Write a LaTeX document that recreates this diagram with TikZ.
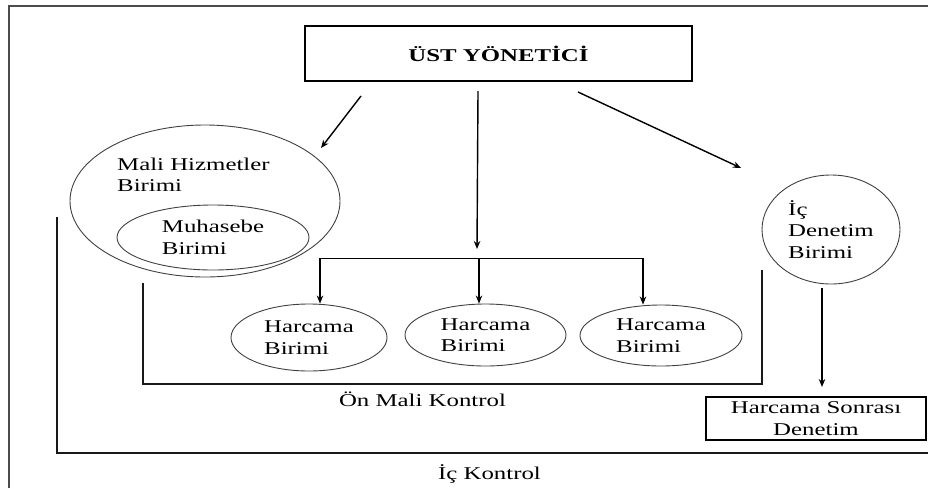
\documentclass[tikz,border=0pt]{standalone}
\usepackage{fontspec}
\setmainfont{Liberation Serif}[FakeStretch=1.38]
\usetikzlibrary{shapes.geometric,arrows.meta}
\begin{document}
\begin{tikzpicture}[x=1pt,y=-1pt,
  every node/.style={font=\fontsize{18}{21.5}\selectfont, inner sep=0pt},
  ell/.style={ellipse, draw=black!75, line width=0.9pt, align=left},
  boxx/.style={rectangle, draw=black, line width=1.6pt},
  arr/.style={-{Stealth[length=8pt,width=6.5pt]}, line width=1.4pt},
  brk/.style={line width=1.6pt, black!90},
  frame/.style={line width=1.5pt, black!70},
  lbl/.style={anchor=base},
]
\useasboundingbox (0,0) rectangle (928,488);
% outer frame
\coordinate (f1) at (9,488);
\coordinate (f2) at (9,6);
\coordinate (f3) at (928,6);
\draw[frame] (f1) -- (f2) -- (f3);

% top manager
\node[boxx, minimum width=387pt, minimum height=55pt] (top) at (498.5,53.5) {\textbf{ÜST YÖNETİCİ}};

% Mali Hizmetler
\node[ell, minimum width=270pt, minimum height=152pt] (mali) at (205,201) {};
\node[anchor=north west, align=left] (malit) at (117,157.5) {Mali Hizmetler\\Birimi};
\node[ell, minimum width=192pt, minimum height=65pt] (muh) at (213,237.5) {Muhasebe\\Birimi};

% Ic Denetim
\node[ell, minimum width=138pt, minimum height=109pt] (ic) at (831,229.5) {İç\\Denetim\\Birimi};

% Harcama birimleri
\node[ell, minimum width=156pt, minimum height=67pt] (e1) at (309,337.5) {Harcama\\Birimi};
\node[ell, minimum width=161pt, minimum height=62pt] (e2) at (485.5,335) {Harcama\\Birimi};
\node[ell, minimum width=162pt, minimum height=61pt] (e3) at (661,335.5) {Harcama\\Birimi};

% Harcama sonrasi denetim
\node[boxx, minimum width=220pt, minimum height=43pt, align=center, line width=1.5pt] (hs) at (816,418.5) {Harcama Sonrası\\Denetim};

% arrows from top
\coordinate (a1s) at (361,96);
\coordinate (a1e) at (321,148);
\coordinate (a2s) at (478,91);
\coordinate (a2e) at (477,249);
\coordinate (a3s) at (578,92);
\coordinate (a3e) at (741,168);
\draw[arr] (a1s) -- (a1e);
\draw[arr] (a2s) -- (a2e);
\draw[arr] (a3s) -- (a3e);

% distribution
\coordinate (d1) at (320,258);
\coordinate (d2) at (479,258);
\coordinate (d3) at (643,258);
\draw[line width=1pt] (d1) -- (d3);
\draw[arr] (d1) -- (d1 |- e1.north);
\draw[arr] (d2) -- (d2 |- e2.north);
\draw[arr] (d3) -- (d3 |- e3.north);

% ic denetim to harcama sonrasi
\coordinate (ids) at (822,288);
\coordinate (ide) at (822,387);
\draw[arr] (ids) -- (ide);

% On mali kontrol bracket
\coordinate (o1) at (143,283);
\coordinate (o2) at (143,384);
\coordinate (o3) at (762,384);
\coordinate (o4) at (762,270);
\draw[brk] (o1) -- (o2) -- (o3) -- (o4);
\node[lbl] (onmali) at (422.5,406) {Ön Mali Kontrol};

% Ic kontrol bracket
\coordinate (k1) at (57,217);
\coordinate (k2) at (57,453);
\coordinate (k3) at (928,453);
\draw[brk] (k1) -- (k2) -- (k3);
\node[lbl] (ickontrol) at (489.5,479) {İç Kontrol};
\end{tikzpicture}
\end{document}
